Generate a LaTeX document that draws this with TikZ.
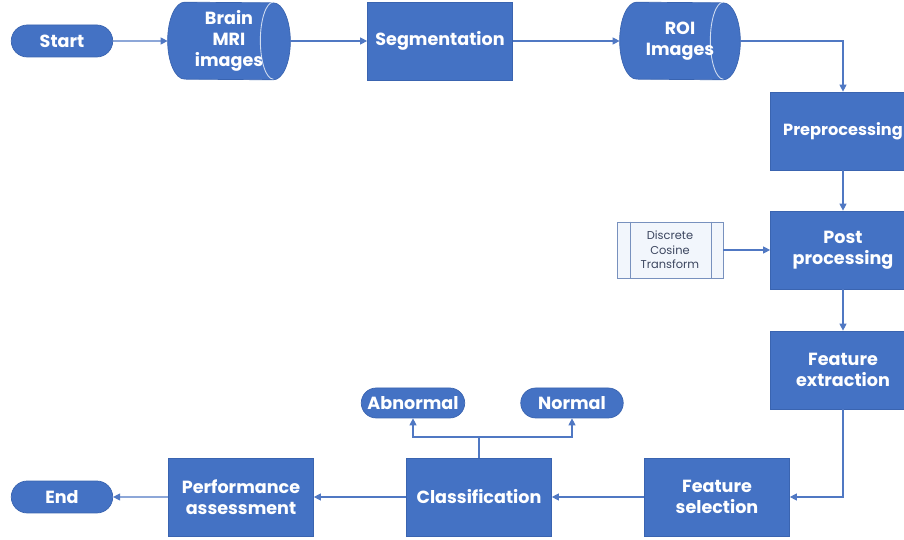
\documentclass[tikz,border=0pt]{standalone}
\usepackage{fontspec}
\setmainfont{Poppins}
\usetikzlibrary{arrows.meta, shapes.misc, positioning, calc, backgrounds}
\definecolor{boxblue}{RGB}{68,114,196}
\definecolor{boxedge}{RGB}{58,100,176}
\definecolor{linkblue}{RGB}{80,120,195}
\definecolor{dctfill}{RGB}{242,246,252}
\definecolor{dctedge}{RGB}{120,145,190}
\definecolor{dcttext}{RGB}{60,70,95}

\begin{document}
\begin{tikzpicture}[x=0.02cm, y=-0.02cm,
  procbox/.style={draw=boxedge, fill=boxblue, text=white, font=\fontsize{10}{12}\selectfont\bfseries, align=center, minimum width=2.9cm, minimum height=1.56cm, inner sep=1pt},
  pill/.style={rounded rectangle, draw=boxedge, fill=boxblue, text=white, font=\fontsize{10}{12}\selectfont\bfseries, minimum width=2.1cm, minimum height=0.64cm, inner sep=1pt},
  datanode/.style={text=white, font=\fontsize{10}{12}\selectfont\bfseries, align=center, minimum height=1.54cm, inner sep=1pt},
  link/.style={draw=linkblue, line width=0.6pt, -{Triangle[length=4pt, width=4pt]}}]
  \useasboundingbox (0,0) rectangle (904,540);

  % Top row
  \node[pill] (start) at (62,41) {Start};
  \node[datanode, minimum width=2.44cm] (mri) at (229,41) {Brain\\MRI\\images};
  \node[procbox] (seg) at (440,41) {Segmentation};
  \node[datanode, minimum width=2.4cm] (roi) at (680,41) {ROI\\Images};

  % Stored data shapes behind the texts
  \begin{scope}[on background layer]
    \foreach \n in {mri, roi} {
      \filldraw[fill=boxblue, draw=boxedge] ([xshift=0.34cm]\n.north west)
        arc[start angle=90, end angle=270, x radius=0.34cm, y radius=0.77cm]
        -- ([xshift=-0.34cm]\n.south east)
        arc[start angle=270, end angle=450, x radius=0.34cm, y radius=0.77cm] -- cycle;
      \draw[white!75!boxblue, line width=0.5pt] ([xshift=-0.34cm]\n.north east)
        arc[start angle=90, end angle=270, x radius=0.26cm, y radius=0.77cm];
    }
  \end{scope}

  % Right column
  \node[procbox, font=\fontsize{9.2}{12}\selectfont\bfseries] (pre) at (843,131) {Preprocessing};
  \node[procbox] (post) at (843,250) {Post\\processing};
  \node[procbox] (fext) at (843,370) {Feature\\extraction};

  % Discrete cosine transform (predefined process)
  \node[draw=dctedge, fill=dctfill, text=dcttext, font=\fontsize{6.5}{8.2}\selectfont, align=center, minimum width=2.12cm, minimum height=1.12cm, inner sep=1pt] (dct) at (670,250) {Discrete\\Cosine\\Transform};
  \draw[dctedge] ([xshift=0.28cm]dct.north west) -- ([xshift=0.28cm]dct.south west);
  \draw[dctedge] ([xshift=-0.24cm]dct.north east) -- ([xshift=-0.24cm]dct.south east);

  % Bottom row
  \node[procbox] (fsel) at (717,497) {Feature\\selection};
  \node[procbox] (cls) at (479,497) {Classification};
  \node[procbox] (perf) at (241,497) {Performance\\assessment};
  \node[pill] (end) at (62,497) {End};

  % Outcomes
  \node[pill, minimum width=2.14cm, minimum height=0.6cm] (abn) at (413,403) {Abnormal};
  \node[pill, minimum width=2.12cm, minimum height=0.6cm] (nrm) at (572,403) {Normal};
  \coordinate (split) at (479,437);

  % Arrows
  \draw[link] (start) -- (mri);
  \draw[link] (mri) -- (seg);
  \draw[link] (seg) -- (roi);
  \draw[link] (roi.east) -| (pre.north);
  \draw[link] (pre) -- (post);
  \draw[link] (dct) -- (post);
  \draw[link] (post) -- (fext);
  \draw[link] (fext.south) |- (fsel.east);
  \draw[link] (fsel) -- (cls);
  \draw[link] (cls) -- (perf);
  \draw[link] (perf) -- (end);
  \draw[draw=linkblue, line width=0.6pt] (cls.north) -- (split);
  \draw[link] (split) -| (abn.south);
  \draw[link] (split) -| (nrm.south);
\end{tikzpicture}
\end{document}
